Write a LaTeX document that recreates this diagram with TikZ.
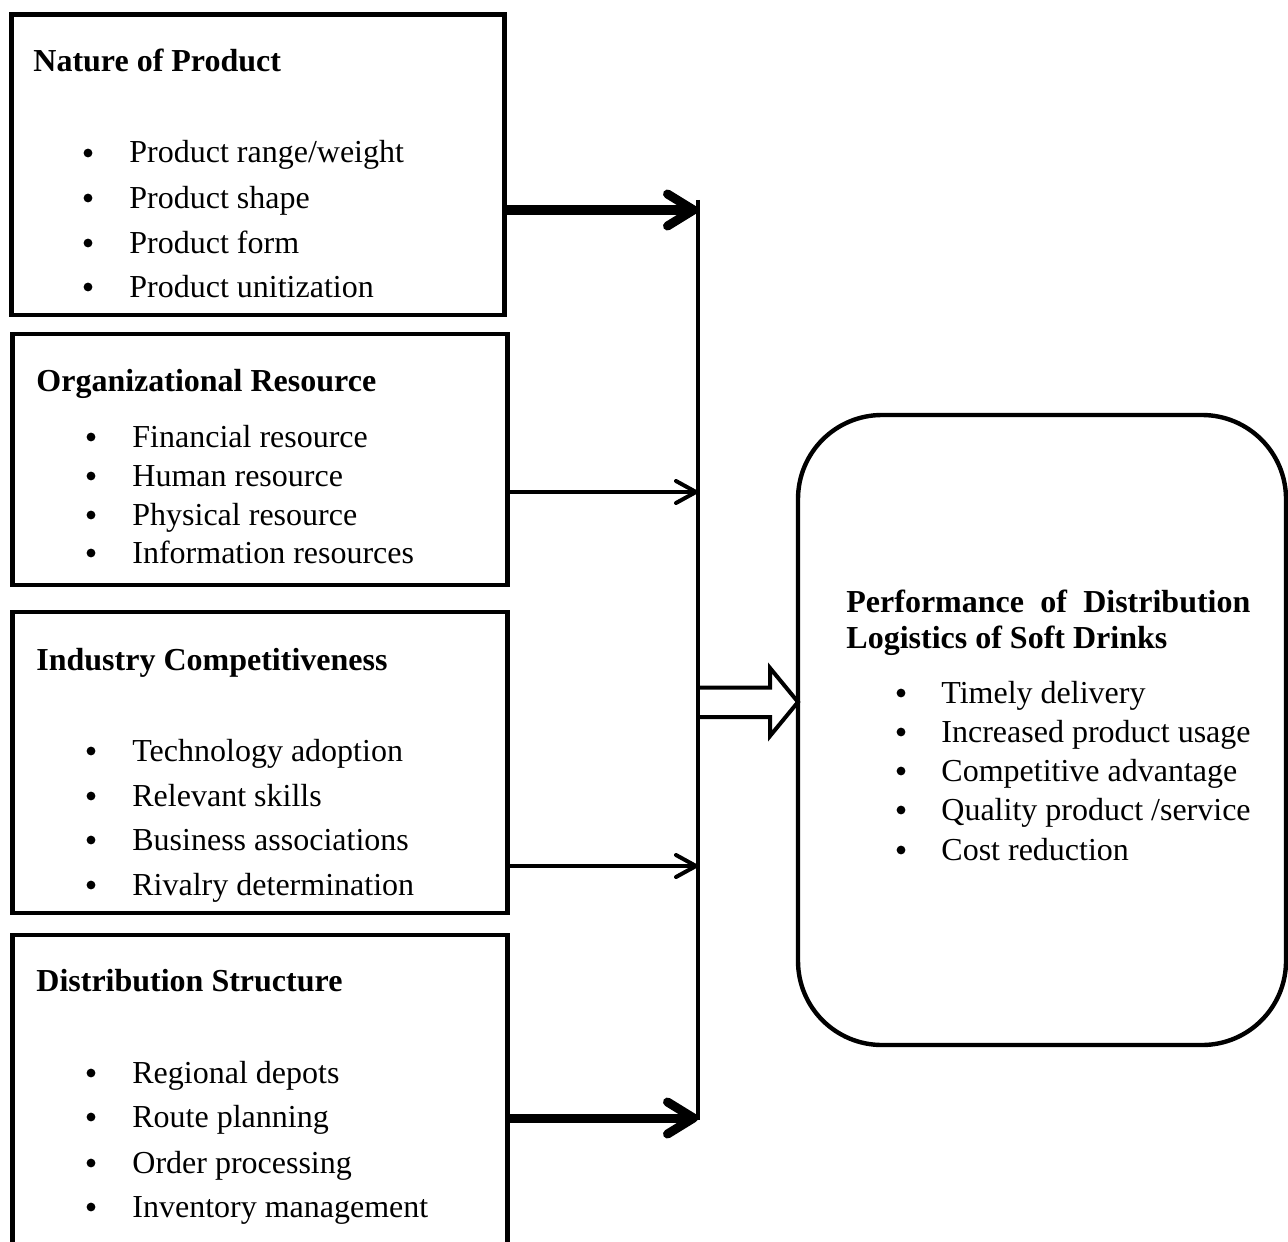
\documentclass[tikz,border=0pt]{standalone}
\usepackage{fontspec}
\setmainfont{Liberation Serif}
\usetikzlibrary{arrows.meta}
\begin{document}
\begin{tikzpicture}[x=0.5pt,y=-0.5pt,
  box/.style={draw, line width=2.2pt, inner sep=0pt, outer sep=0pt, anchor=north west},
  ttl/.style={anchor=base west, inner sep=0pt, font=\fontsize{16}{19}\selectfont\bfseries},
  itm/.style={anchor=base west, inner sep=0pt, font=\fontsize{16}{19}\selectfont},
  bul/.style={circle, fill=black, inner sep=0pt, minimum size=4.4pt},
  bigarrow/.style={line width=4.5pt, -{Straight Barb[length=13pt,width=16pt,round]}},
  smallarrow/.style={line width=2pt, -{Straight Barb[length=10pt,width=11pt,round]}},
  bus/.style={line width=2.2pt},
  blockarrow/.style={line width=2pt, line join=miter}
]
\useasboundingbox (0,0) rectangle (1288,1241);
% boxes
\node[box, minimum width=246.5pt, minimum height=150.25pt] (b1) at (11.5,14.5) {};
\node[box, minimum width=247.5pt, minimum height=125.5pt] (b2) at (12.5,334) {};
\node[box, minimum width=247.5pt, minimum height=150.5pt] (b3) at (12.5,612) {};
\node[box, minimum width=247.5pt, minimum height=170pt] (b4) at (12.5,935) {};
\node[box, minimum width=244pt, minimum height=315pt, rounded corners=42pt] (r) at (798,415) {};
% box 1 text
\node[ttl] (t1) at (33,72) {Nature of Product};
\foreach \y/\t [count=\i] in {163/{Product range/weight},208/Product shape,253/Product form,297/Product unitization}{
  \node[bul] (p1b\i) at (88,\y-10) {};
  \node[itm] (p1t\i) at (129,\y) {\t};
}
% box 2 text
\node[ttl] (t2) at (36,391) {Organizational Resource};
\foreach \y/\t [count=\i] in {447/Financial resource,486/Human resource,525/Physical resource,563/Information resources}{
  \node[bul] (p2b\i) at (91,\y-10) {};
  \node[itm] (p2t\i) at (132,\y) {\t};
}
% box 3 text
\node[ttl] (t3) at (36,670) {Industry Competitiveness};
\foreach \y/\t [count=\i] in {761/Technology adoption,806/Relevant skills,850/Business associations,895/Rivalry determination}{
  \node[bul] (p3b\i) at (91,\y-10) {};
  \node[itm] (p3t\i) at (132,\y) {\t};
}
% box 4 text
\node[ttl] (t4) at (36,991) {Distribution Structure};
\foreach \y/\t [count=\i] in {1083/Regional depots,1127/Route planning,1173/Order processing,1217/Inventory management}{
  \node[bul] (p4b\i) at (91,\y-10) {};
  \node[itm] (p4t\i) at (132,\y) {\t};
}
% right box text
\node[ttl] (rt1) at (846,612) {\makebox[202pt][s]{Performance of Distribution}};
\node[ttl] (rt2) at (846,648) {Logistics of Soft Drinks};
\foreach \y/\t [count=\i] in {703/Timely delivery,742/Increased product usage,781/Competitive advantage,820/{Quality product /service},860/Cost reduction}{
  \node[bul] (rb\i) at (901,\y-10) {};
  \node[itm] (rtt\i) at (941,\y) {\t};
}
% bus line
\coordinate (vtop) at (698,200);
\coordinate (vbot) at (698,1120);
\draw[bus] (vtop) -- (vbot);
\coordinate (v1) at (698,210);
\coordinate (v2) at (698,492);
\coordinate (v3) at (698,866);
\coordinate (v4) at (698,1118);
\draw[bigarrow] (v1 -| b1.east) -- (v1);
\draw[smallarrow] (v2 -| b2.east) -- (v2);
\draw[smallarrow] (v3 -| b3.east) -- (v3);
\draw[bigarrow] (v4 -| b4.east) -- (v4);
% block arrow
\coordinate (ha) at (698,702);
\coordinate (tip) at (ha -| r.west);
\draw[blockarrow] (698,687.5) -- (770,687.5) -- (770,668) -- (tip) -- (770,736) -- (770,717) -- (698,717);
\end{tikzpicture}
\end{document}
